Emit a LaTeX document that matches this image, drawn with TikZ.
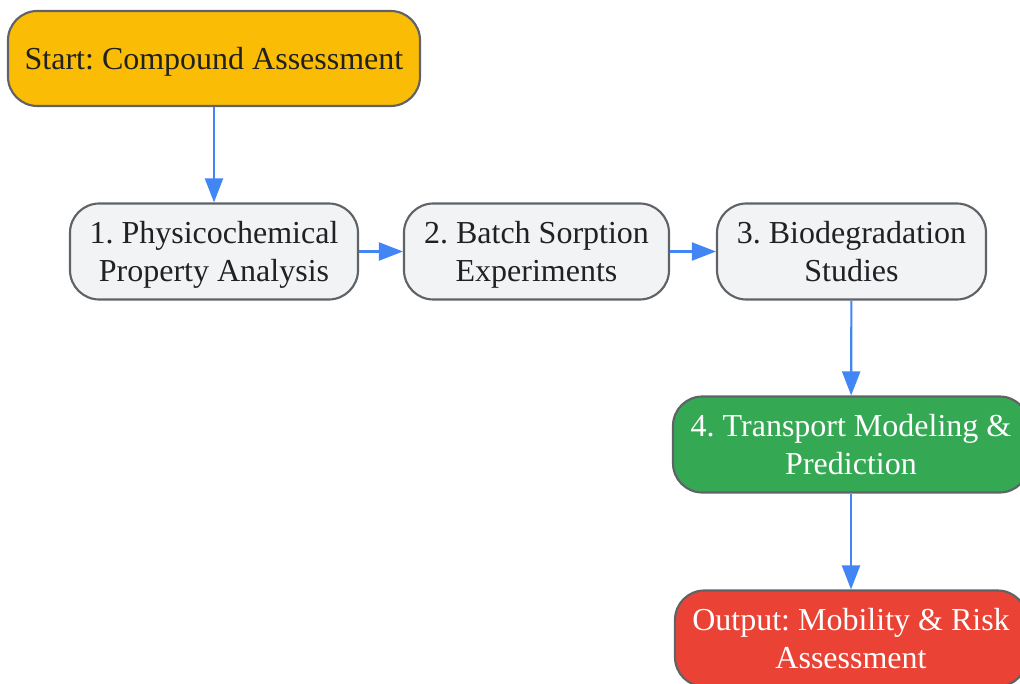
\documentclass[tikz,border=0pt]{standalone}
\usepackage{fontspec}
\setmainfont{Liberation Serif}
\usetikzlibrary{arrows.meta}
\frenchspacing
\definecolor{cyel}{HTML}{FBBC05}
\definecolor{cgray}{HTML}{F1F3F4}
\definecolor{cbord}{HTML}{5F6368}
\definecolor{cgreen}{HTML}{34A853}
\definecolor{cred}{HTML}{EA4335}
\definecolor{cblue}{HTML}{4285F4}
\definecolor{ctext}{HTML}{202124}
\newcommand\tup{\rule{0pt}{22.5pt}}
\newcommand\tdn{\rule[-5.3pt]{0pt}{5.3pt}}
\tikzset{
  box/.style={draw=cbord, line width=1.6pt, rounded corners=22pt, inner sep=0pt,
    minimum height=72pt, align=center, font=\fontsize{24}{28.5}\selectfont, text=ctext},
  conn/.style={draw=cblue, line width=1.6pt, -{Triangle[length=18pt,width=13.5pt]}}
}
\begin{document}
\begin{tikzpicture}[x=0.75pt,y=-0.75pt]
\useasboundingbox (0,0) rectangle (1020,684);
\clip (0,0) rectangle (1020,684);
\node[box, fill=cyel, minimum width=309pt, minimum height=71.25pt] (start) at (214,58.5) {\tup Start: Compound Assessment\tdn};
\node[box, fill=cgray, minimum width=216pt] (n1) at (214,251.5) {\tup 1. Physicochemical\\Property Analysis\tdn};
\node[box, fill=cgray, minimum width=198.75pt] (n2) at (536.5,251.5) {\tup 2. Batch Sorption\\Experiments\tdn};
\node[box, fill=cgray, minimum width=201.75pt] (n3) at (851.5,251.5) {\tup 3. Biodegradation\\Studies\tdn};
\node[box, fill=cgreen, text=white, minimum width=267pt] (n4) at (851,444.5) {\tup 4. Transport Modeling \&\\Prediction\tdn};
\node[box, fill=cred, text=white, minimum width=264pt] (out) at (851,638.5) {\tup Output: Mobility \& Risk\\Assessment\tdn};
\draw[conn] (start) -- (n1);
\draw[conn] (n1) -- (n2);
\draw[conn] (n2) -- (n3);
\draw[conn] (n3) -- (n4);
\draw[conn] (n4) -- (out);
\end{tikzpicture}
\end{document}
